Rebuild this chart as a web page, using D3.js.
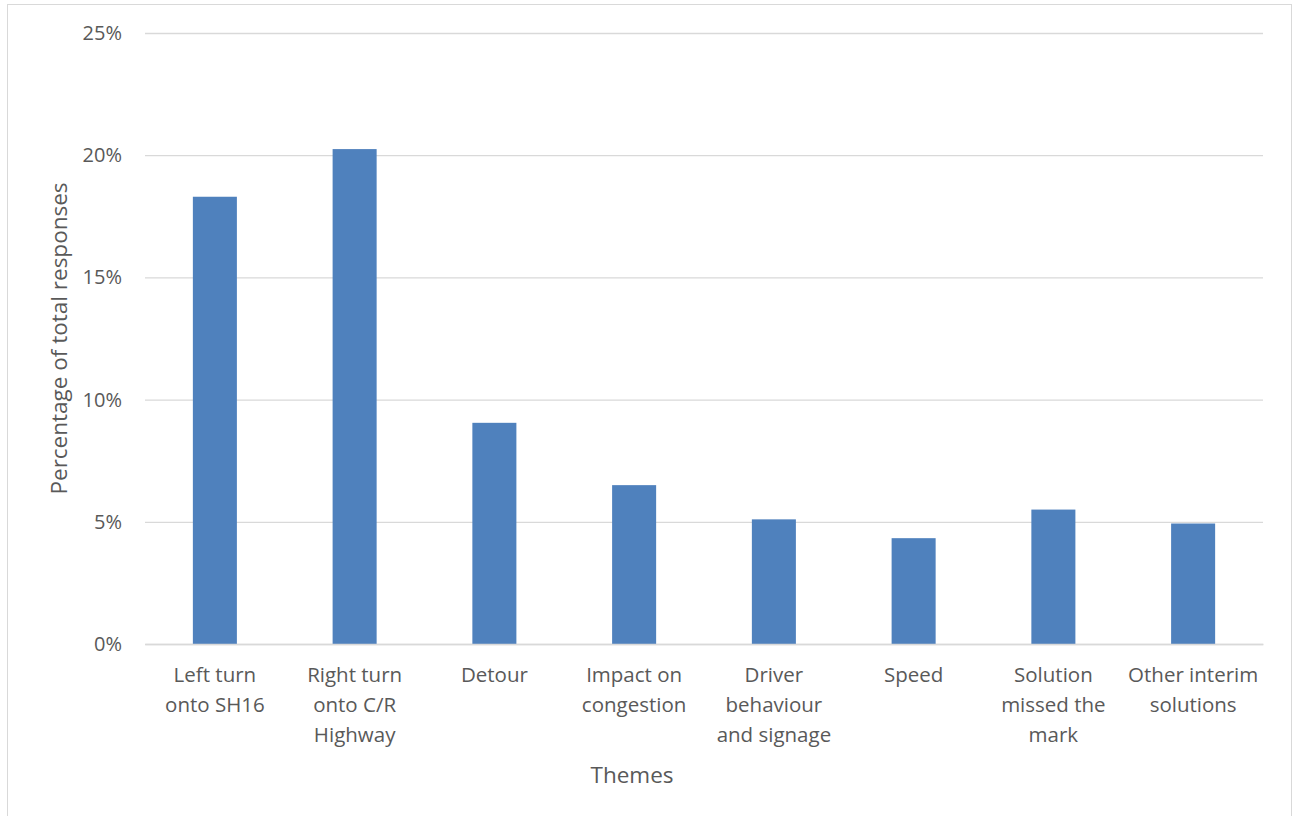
<!DOCTYPE html>
<html><head><meta charset="utf-8">
<script src="https://d3js.org/d3.v7.min.js"></script>
<style>body{margin:0;background:#fff}svg{display:block}text{font-family:"Open Sans","Noto Sans",sans-serif;fill:#595959}</style>
</head><body>
<script>
const categories = [
  ["Left turn","onto SH16"],
  ["Right turn","onto C/R","Highway"],
  ["Detour"],
  ["Impact on","congestion"],
  ["Driver","behaviour","and signage"],
  ["Speed"],
  ["Solution","missed the","mark"],
  ["Other interim","solutions"]
];
const values = [18.3, 20.25, 9.05, 6.5, 5.1, 4.33, 5.5, 4.93];
const yTicks = [0, 5, 10, 15, 20, 25];
const xTitle = "Themes";
const yTitle = "Percentage of total responses";

(function(){
const W = 1293, H = 816;
const svg = d3.select("body").append("svg").attr("width", W).attr("height", H);
svg.append("rect").attr("x", 7.5).attr("y", 4.5).attr("width", 1284).attr("height", 816)
  .attr("fill", "#fff").attr("stroke", "#D9D9D9");

const pl = 145, pr = 1263, pt = 33, pb = 644;
const x = d3.scaleBand().domain(d3.range(categories.length)).range([pl, pr]).paddingInner(0.685).paddingOuter(0.3425);
const y = d3.scaleLinear().domain([0, 25]).range([pb, pt]);

const yAxis = d3.axisLeft(y).tickValues(yTicks).tickSize(-(pr - pl)).tickFormat(d => d + "%").tickPadding(23);
const gy = svg.append("g").attr("transform", `translate(${pl},0)`).call(yAxis);
gy.attr("font-family", null);
gy.select(".domain").remove();
gy.selectAll(".tick line").attr("stroke", "#D9D9D9").attr("stroke-width", 1.3);
gy.selectAll(".tick text").attr("font-size", 20).style("fill", "#595959");

svg.append("g").selectAll("rect").data(values).join("rect")
  .attr("x", (d, i) => x(i)).attr("width", x.bandwidth())
  .attr("y", d => y(d)).attr("height", d => y(0) - y(d))
  .attr("fill", "#4F81BD");

const xAxis = d3.axisBottom(x).tickSize(0).tickFormat("");
const gx = svg.append("g").attr("transform", `translate(0,${pb})`).call(xAxis);
gx.attr("font-family", null);
gx.select(".domain").attr("stroke", "#D9D9D9").attr("stroke-width", 1.3);
gx.selectAll(".tick").each(function(d) {
  const t = d3.select(this).append("text").attr("text-anchor", "middle").attr("font-size", 20.5).style("fill", "#595959");
  categories[d].forEach((line, k) => {
    t.append("tspan").attr("x", 0).attr("y", 38 + k * 30).text(line);
  });
});

svg.append("text").attr("x", 632).attr("y", 783).attr("text-anchor", "middle")
  .attr("font-size", 22.5).text(xTitle);
svg.append("text").attr("transform", `translate(67,${(pt + pb) / 2}) rotate(-90)`)
  .attr("text-anchor", "middle").attr("font-size", 22.5).text(yTitle);
})();
</script>
</body></html>
